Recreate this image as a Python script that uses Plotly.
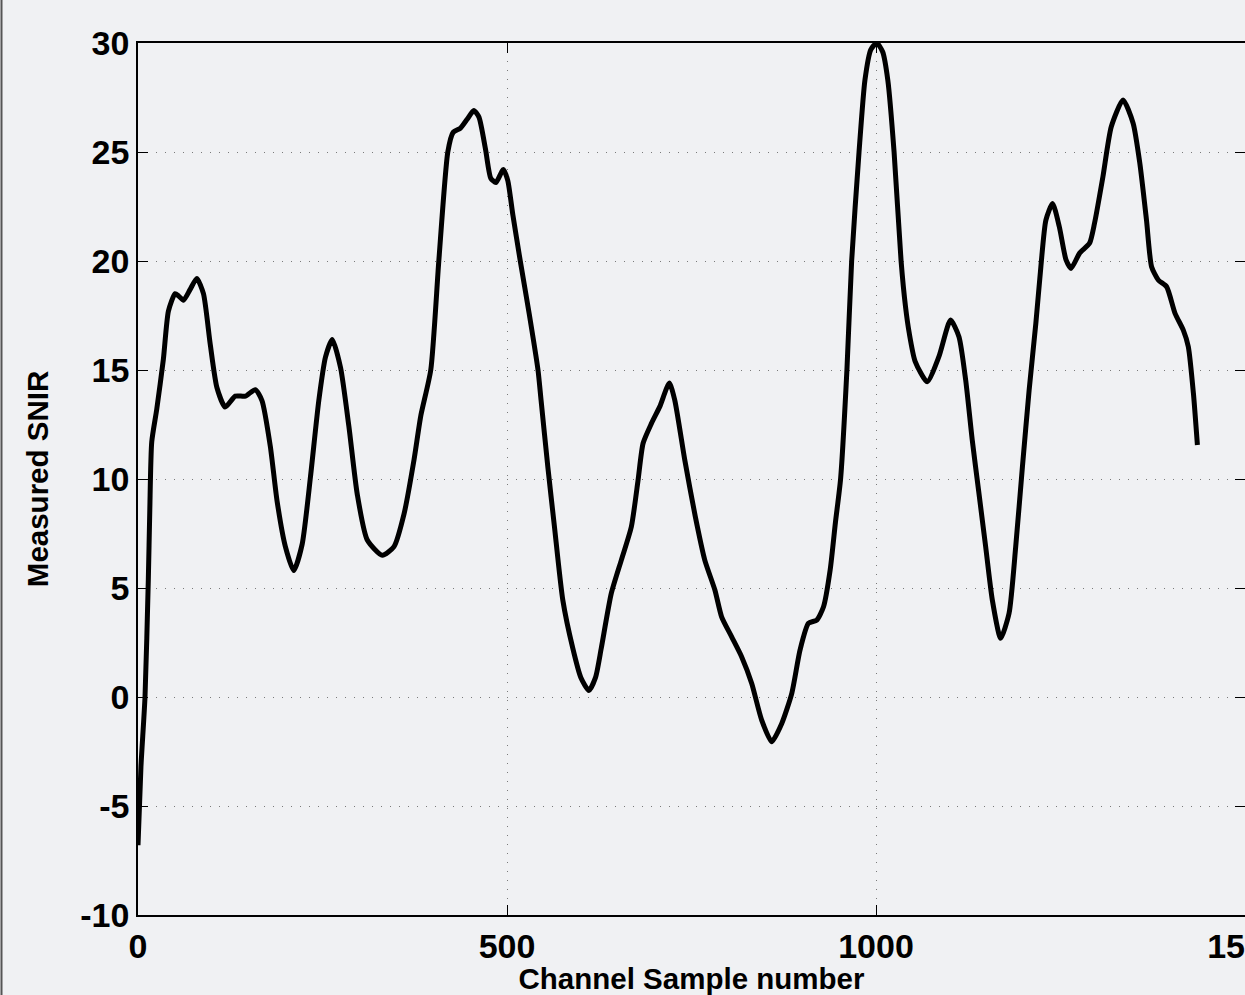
import plotly.graph_objects as go

# Data
sample_number = [
    0, 4, 9.5, 14, 16, 18.6, 25.4, 34.4, 41.2, 50.3, 55, 61.6, 70.7, 79.7, 88.7,
    97.8, 106.9, 118.2, 131.8, 145.4, 158.9, 168, 179.3, 188.4, 199.7, 211, 222.4,
    233.7, 245, 254.1, 263.2, 274.5, 285.8, 297.1, 310.7, 331.1, 346.9, 360.5,
    374.1, 383.2, 396.7, 407.6, 419.8, 427, 437, 446, 455, 462, 471, 478, 485,
    495, 501, 508, 518, 530, 542, 546.2, 555.3, 564.3, 575.6, 589.2, 600, 611,
    620, 627.7, 641.3, 654.9, 668.5, 677.6, 684.4, 695.7, 707, 720, 727.3, 740.9,
    755, 768, 781.7, 790.8, 804.3, 817.9, 831.5, 845.1, 858.7, 872.3, 885.9,
    897.1, 908.5, 919.8, 928.9, 937.9, 945, 952, 960.6, 967, 977, 985, 993, 1001,
    1009, 1016, 1024.5, 1034, 1040, 1045, 1053, 1069.3, 1085.2, 1101, 1112.4,
    1121.5, 1130.4, 1139.5, 1148.6, 1157.6, 1168.9, 1180.3, 1189.3, 1198.4,
    1207.5, 1216.6, 1223.4, 1230.2, 1239.3, 1248.4, 1257.5, 1264.3, 1275.7,
    1289.3, 1296.1, 1307.5, 1318.8, 1334.8, 1348.4, 1357.5, 1366.5, 1373.4,
    1382.5, 1393.8, 1405.2, 1416.4, 1423.2, 1430.1, 1435.5,
]
measured_snir = [
    -6.8, -3.2, 0.0, 5.4, 8.6, 11.7, 13.2, 15.5, 17.7, 18.5, 18.4, 18.2, 18.7,
    19.2, 18.5, 16.2, 14.2, 13.3, 13.8, 13.8, 14.1, 13.6, 11.5, 9.0, 6.9, 5.8,
    7.0, 10.1, 13.6, 15.6, 16.4, 15.1, 12.4, 9.3, 7.2, 6.5, 6.9, 8.4, 10.9, 12.9,
    15.0, 20.0, 25.0, 25.9, 26.1, 26.5, 26.9, 26.6, 25.1, 23.8, 23.6, 24.2, 23.7,
    22.1, 20.0, 17.6, 15.0, 13.6, 10.56, 7.81, 4.45, 2.23, 0.9, 0.3, 0.9, 2.23,
    4.75, 6.28, 7.81, 9.95, 11.64, 12.55, 13.32, 14.4, 13.62, 10.87, 8.3, 6.28,
    4.91, 3.68, 2.77, 1.85, 0.63, -1.06, -2.05, -1.21, 0.17, 2.16, 3.38, 3.53,
    4.14, 5.83, 8.0, 10.0, 15.0, 20.0, 25.0, 28.3, 29.7, 30.0, 29.6, 28.3, 25.0,
    20.0, 17.9, 16.7, 15.4, 14.46, 15.61, 17.29, 16.53, 14.54, 11.79, 9.34, 6.89,
    4.45, 2.69, 3.84, 6.89, 10.56, 14.08, 17.14, 19.74, 21.88, 22.64, 21.57,
    20.05, 19.66, 20.35, 20.81, 21.73, 23.87, 26.16, 27.39, 26.32, 24.48, 21.88,
    19.74, 19.13, 18.82, 17.6, 16.83, 16.07, 13.93, 11.56,
]
x_ticks = [0, 500, 1000, 1500]
y_ticks = [-10, -5, 0, 5, 10, 15, 20, 25, 30]

BG = "#f0f1f3"
W, H = 1245, 995
ML, MR, MT, MB = 138, 0, 43, 80
plot_h = H - MT - MB
plot_w = W - ML - MR

fig = go.Figure()
fig.add_trace(go.Scatter(
    x=sample_number, y=measured_snir, mode="lines",
    line=dict(color="black", width=5, shape="spline", smoothing=0.6),
    showlegend=False, hoverinfo="skip",
))

tickfont = dict(family="Liberation Sans, Arial, sans-serif", size=34, color="black", weight="bold")
titlefont = dict(family="Liberation Sans, Arial, sans-serif", size=29.5, color="black", weight="bold")

axis_common = dict(
    showline=True, linecolor="black", linewidth=1.5, mirror="ticks",
    ticks="inside", ticklen=10, tickwidth=1, tickcolor="black",
    showgrid=True, gridcolor="#7a7a7a", gridwidth=1, griddash="1px,8px",
    zeroline=False, tickfont=tickfont, ticklabeloverflow="allow",
)

fig.update_xaxes(
    range=[0, 1500], tickmode="array", tickvals=x_ticks,
    ticktext=[str(v) for v in x_ticks],
    title=dict(text="Channel Sample number", font=titlefont, standoff=0),
    **axis_common,
)
fig.update_yaxes(
    range=[-10, 30], tickmode="array", tickvals=y_ticks,
    ticktext=[str(v) for v in y_ticks],
    title=dict(text="Measured SNIR", font=titlefont, standoff=23),
    **axis_common,
)

fig.add_shape(
    type="line", xref="paper", yref="paper",
    x0=(1.5 - ML) / plot_w, x1=(1.5 - ML) / plot_w,
    y0=(MT + plot_h - H) / plot_h, y1=(MT + plot_h) / plot_h,
    line=dict(color="#555555", width=2), layer="above",
)

fig.update_layout(
    width=W, height=H,
    margin=dict(l=ML, r=MR, t=MT, b=MB, autoexpand=False),
    paper_bgcolor=BG, plot_bgcolor=BG,
)

fig.write_html(
    "out.html",
    config={"displayModeBar": False},
    post_script="document.body.style.margin='0';document.body.style.overflow='hidden';",
)
